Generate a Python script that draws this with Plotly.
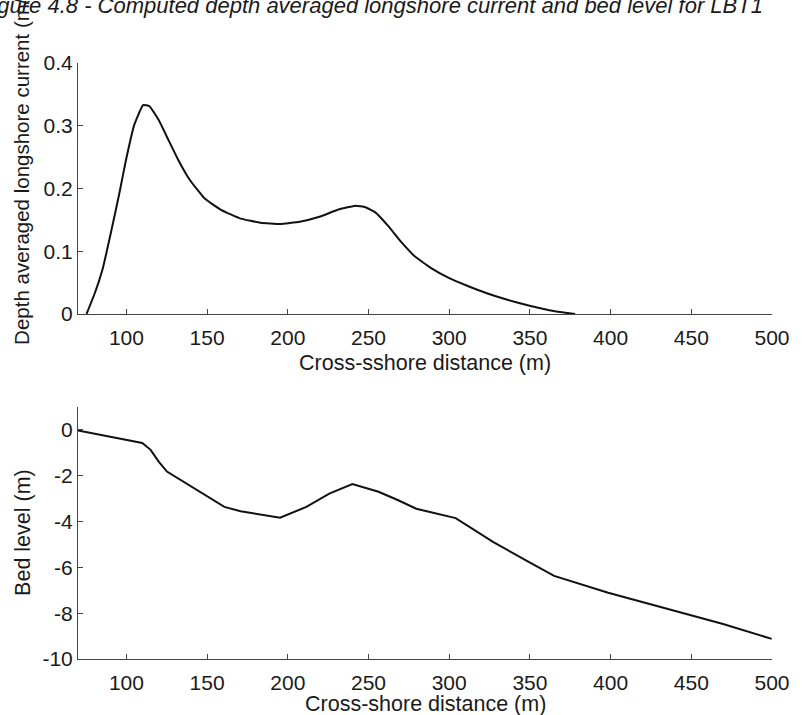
import plotly.graph_objects as go
from plotly.subplots import make_subplots

# Top panel: depth averaged longshore current (m/s)
current_x = [75.3, 80.4, 85.4, 90.5, 95.6, 99.7, 104.8, 110.3, 114.3, 120.0, 126.1, 132.2,
             139.3, 148.5, 158.6, 170.8, 183.0, 195.2, 207.4, 219.6, 231.8, 242.0, 248.1,
             254.2, 262.3, 270.5, 278.6, 288.8, 300.0, 311.1, 323.3, 335.5, 349.8, 362.0,
             372.0, 378.0]
current_v = [0.0, 0.033, 0.073, 0.131, 0.192, 0.245, 0.301, 0.333, 0.331, 0.309, 0.277, 0.245,
             0.2135, 0.184, 0.166, 0.152, 0.1455, 0.1434, 0.147, 0.155, 0.1668, 0.1726, 0.170,
             0.162, 0.140, 0.114, 0.092, 0.073, 0.057, 0.045, 0.033, 0.023, 0.013, 0.006,
             0.002, 0.0]

# Bottom panel: bed level (m)
bed_x = [70.0, 109.8, 115.0, 120.0, 125.1, 142.4, 160.7, 170.8, 195.2, 211.5, 225.7, 240.0,
         256.2, 268.4, 279.6, 304.0, 327.4, 349.8, 365.0, 398.5, 429.0, 469.7, 499.8]
bed_z = [-0.02, -0.57, -0.87, -1.38, -1.82, -2.56, -3.36, -3.55, -3.83, -3.36, -2.78, -2.36,
         -2.70, -3.07, -3.44, -3.85, -4.90, -5.78, -6.37, -7.11, -7.70, -8.47, -9.12]

x_ticks = [100, 150, 200, 250, 300, 350, 400, 450, 500]
top_y_ticks = [0, 0.1, 0.2, 0.3, 0.4]
top_y_labels = ["0", "0.1", "0.2", "0.3", "0.4"]
bot_y_ticks = [0, -2, -4, -6, -8, -10]
bot_y_labels = ["0", "-2", "-4", "-6", "-8", "-10"]

FONT = "Arial, Liberation Sans, sans-serif"
AX = "#444444"
LINE = "#111111"
TXT = "#1a1a1a"

fig = make_subplots(rows=2, cols=1, vertical_spacing=0.1557)

fig.add_trace(go.Scatter(x=current_x, y=current_v, mode="lines",
                         line=dict(color=LINE, width=2, shape="spline", smoothing=0.35),
                         showlegend=False), row=1, col=1)
fig.add_trace(go.Scatter(x=bed_x, y=bed_z, mode="lines",
                         line=dict(color=LINE, width=2), showlegend=False), row=2, col=1)

axis_common = dict(showgrid=False, zeroline=False, showline=True, linecolor=AX, linewidth=1,
                   ticks="inside", ticklen=5, tickcolor=AX, tickwidth=1,
                   tickfont=dict(family=FONT, size=21, color=TXT))

fig.update_xaxes(range=[70, 500], tickvals=x_ticks, ticklabelstandoff=5, **axis_common)
fig.update_yaxes(**axis_common)
fig.update_yaxes(range=[0, 0.4], tickvals=top_y_ticks, ticktext=top_y_labels,
                 domain=[0.5789, 1.0], row=1, col=1)
fig.update_yaxes(range=[-10, 1], tickvals=bot_y_ticks, ticktext=bot_y_labels,
                 domain=[0.0, 0.4228], row=2, col=1)

annots = [
    dict(text="<i>Figure 4.8 - Computed depth averaged longshore current and bed level for LBT1</i>",
         x=0.990, y=1.0973, xanchor="right", yanchor="middle",
         font=dict(family=FONT, size=22, color=TXT)),
    dict(text="Cross-sshore distance (m)", x=0.5, y=0.4966, xanchor="center", yanchor="middle",
         font=dict(family=FONT, size=21.5, color=TXT)),
    dict(text="Cross-shore distance (m)", x=0.5, y=-0.0755, xanchor="center", yanchor="middle",
         font=dict(family=FONT, size=21.5, color=TXT)),
    dict(text="Depth averaged longshore current (m/s)", x=-0.0823, y=0.8322, xanchor="center",
         yanchor="middle", textangle=-90, font=dict(family=FONT, size=20.5, color=TXT)),
    dict(text="Bed level (m)", x=-0.0794, y=0.2131, xanchor="center", yanchor="middle",
         textangle=-90, font=dict(family=FONT, size=21.5, color=TXT)),
]
for a in annots:
    a.update(xref="paper", yref="paper", showarrow=False)
fig.update_layout(annotations=annots)

fig.update_layout(width=802, height=715, margin=dict(l=78, r=19, t=63, b=56),
                  plot_bgcolor="white", paper_bgcolor="white",
                  font=dict(family=FONT, size=21, color=TXT))

fig.write_html("out.html")
